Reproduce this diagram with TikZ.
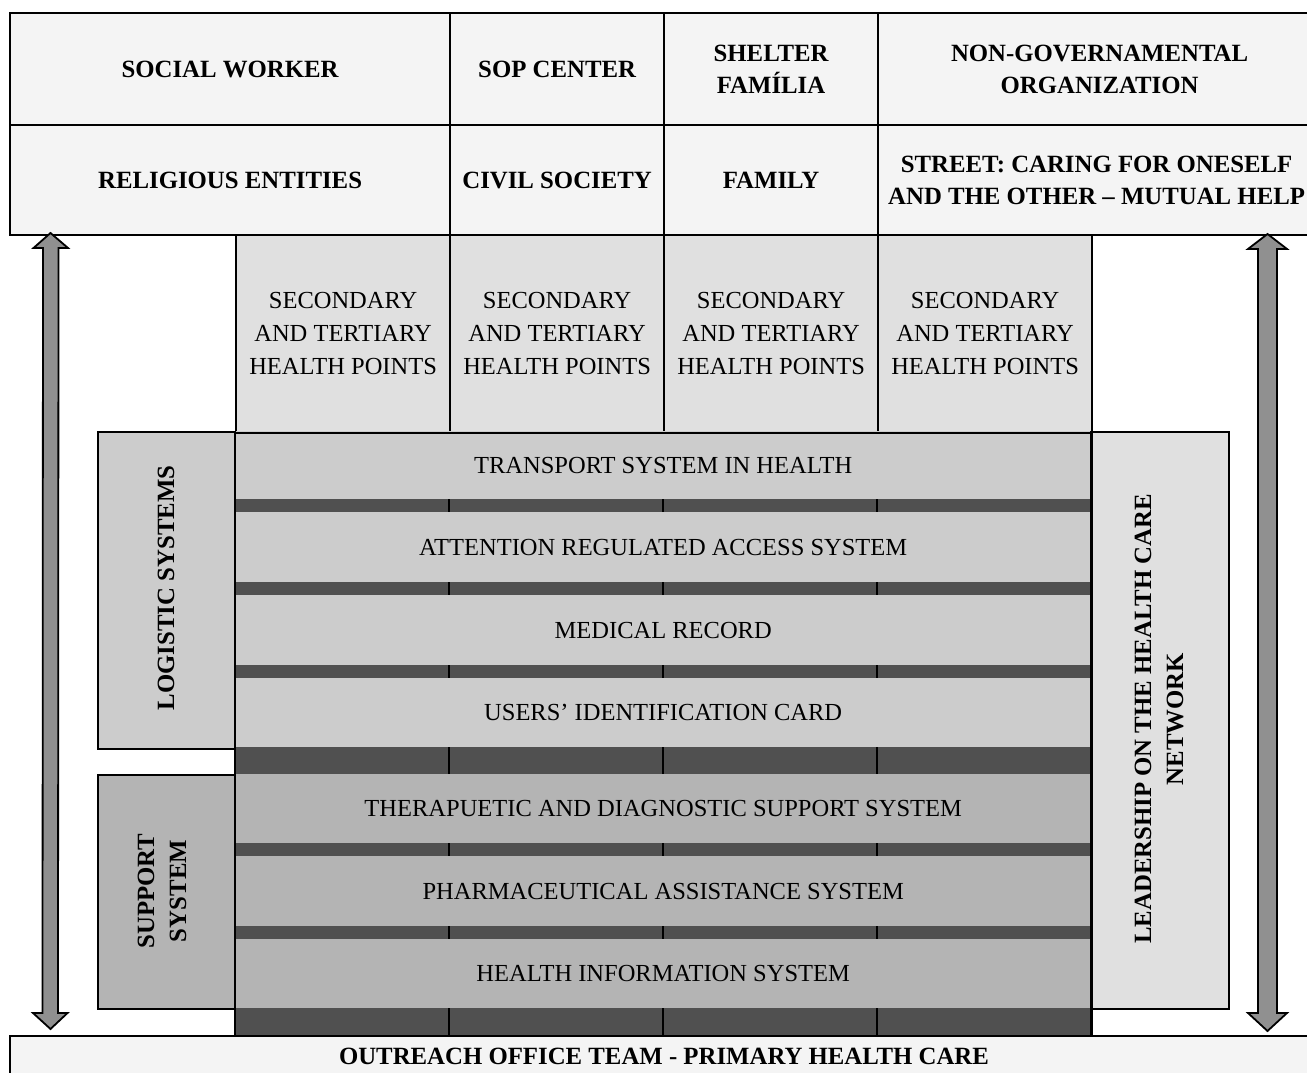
\documentclass[tikz,border=0pt]{standalone}
\usepackage{fontspec}
\setmainfont{Liberation Serif}
\definecolor{toplight}{HTML}{F4F4F4}
\definecolor{secgray}{HTML}{E0E0E0}
\definecolor{loggray}{HTML}{CCCCCC}
\definecolor{supgray}{HTML}{B4B4B4}
\definecolor{bandgray}{HTML}{505050}
\definecolor{arrowgray}{HTML}{909090}
\begin{document}
\begin{tikzpicture}[x=1pt,y=-1pt,
  hdr/.style={draw, line width=2.2pt, fill=toplight, inner sep=0pt, anchor=north west, align=center,
    font=\bfseries\fontsize{24.8}{32}\selectfont},
  secbox/.style={draw, line width=2.2pt, fill=secgray, inner sep=0pt, anchor=north west, align=center,
    minimum width=214, minimum height=197, font=\fontsize{24.5}{33}\selectfont},
  sidebox/.style={draw, line width=2pt, inner sep=0pt, anchor=north west},
  rowbox/.style={inner sep=0pt, anchor=north west, minimum width=856, font=\fontsize{24.5}{32}\selectfont},
  bandbox/.style={fill=bandgray, inner sep=0pt, anchor=north west, minimum width=856},
  vlabel/.style={rotate=90, align=center, font=\bfseries\fontsize{24.8}{32}\selectfont},
  tick/.style={line width=2.5pt, black},
  blockarrow/.style={draw, line width=1.8pt, fill=arrowgray, line join=miter}
]
\clip (0,0) rectangle (1307,1073);
\fill[white] (0,0) rectangle (1307,1073);

% top header rows
\node[hdr, minimum width=440, minimum height=112] (sw) at (9,12) {SOCIAL WORKER};
\node[hdr, minimum width=214, minimum height=112] (sop) at (449,12) {SOP CENTER};
\node[hdr, minimum width=214, minimum height=112] (shelter) at (663,12) {SHELTER\\FAMÍLIA};
\node[hdr, minimum width=443, minimum height=112] (ngo) at (877,12) {NON-GOVERNAMENTAL\\ORGANIZATION};
\node[hdr, minimum width=440, minimum height=110] (rel) at (9,124) {RELIGIOUS ENTITIES};
\node[hdr, minimum width=214, minimum height=110] (civ) at (449,124) {CIVIL SOCIETY};
\node[hdr, minimum width=214, minimum height=110] (fam) at (663,124) {FAMILY};
\node[hdr, minimum width=437, minimum height=110] (street) at (877,124) {STREET: CARING FOR ONESELF\\AND THE OTHER -- MUTUAL HELP};

% secondary and tertiary
\node[secbox] (s1) at (235,234) {SECONDARY\\AND TERTIARY\\HEALTH POINTS};
\node[secbox] (s2) at (449,234) {SECONDARY\\AND TERTIARY\\HEALTH POINTS};
\node[secbox] (s3) at (663,234) {SECONDARY\\AND TERTIARY\\HEALTH POINTS};
\node[secbox] (s4) at (877,234) {SECONDARY\\AND TERTIARY\\HEALTH POINTS};

% side boxes
\node[sidebox, fill=loggray, minimum width=138, minimum height=317] (logbox) at (97,431) {};
\node[vlabel] (loglabel) at (166,588) {LOGISTIC SYSTEMS};
\node[sidebox, fill=supgray, minimum width=138, minimum height=234] (supbox) at (97,774) {};
\node[vlabel] (suplabel) at (162,891) {SUPPORT\\SYSTEM};
\node[sidebox, fill=secgray, minimum width=137, minimum height=577] (leadbox) at (1091,431) {};
\node[vlabel] (leadlabel) at (1159,719) {LEADERSHIP ON THE HEALTH CARE\\NETWORK};

% rows
\node[rowbox, fill=loggray, minimum height=68] (trans) at (235,431) {TRANSPORT SYSTEM IN HEALTH};
\node[bandbox, minimum height=13] (b1) at (235,499) {};
\node[rowbox, fill=loggray, minimum height=70] (att) at (235,512) {ATTENTION REGULATED ACCESS SYSTEM};
\node[bandbox, minimum height=13] (b2) at (235,582) {};
\node[rowbox, fill=loggray, minimum height=70] (med) at (235,595) {MEDICAL RECORD};
\node[bandbox, minimum height=13] (b3) at (235,665) {};
\node[rowbox, fill=loggray, minimum height=69] (card) at (235,678) {USERS’ IDENTIFICATION CARD};
\node[bandbox, minimum height=27] (b4) at (235,747) {};
\node[rowbox, fill=supgray, minimum height=69] (ther) at (235,774) {THERAPUETIC AND DIAGNOSTIC SUPPORT SYSTEM};
\node[bandbox, minimum height=13] (b5) at (235,843) {};
\node[rowbox, fill=supgray, minimum height=70] (pharm) at (235,856) {PHARMACEUTICAL ASSISTANCE SYSTEM};
\node[bandbox, minimum height=13] (b6) at (235,926) {};
\node[rowbox, fill=supgray, minimum height=69] (hinfo) at (235,939) {HEALTH INFORMATION SYSTEM};
\node[bandbox, minimum height=27] (b7) at (235,1008) {};

% ticks in bands
\foreach \b in {b1,b2,b3,b4,b5,b6,b7}{
  \foreach \xx in {214,428,642}{
    \draw[tick] ([xshift=\xx pt]\b.north west) -- ([xshift=\xx pt]\b.south west);
  }
}

% borders of the rows block
\draw[line width=2.5pt] (s1.south west) -- (s4.south east);
\draw[line width=2.5pt] (trans.north west) -- (b7.south west);
\draw[line width=2.5pt] (trans.north east) -- (b7.south east);

% outreach box
\node[hdr, minimum width=1311, minimum height=60, anchor=north west] (out) at (9,1035) {};
\node[font=\bfseries\fontsize{24.8}{32}\selectfont] (outlabel) at (664,1056) {OUTREACH OFFICE TEAM - PRIMARY HEALTH CARE};

% double block arrows
\coordinate (la) at (50.5,233);
\coordinate (lb) at (50.5,1029);
\draw[blockarrow] (la) -- ++(17.5,15) -- ++(-9.5,0) -- (58,1013) -- ++(9.5,0) -- (lb) -- ++(-17.5,-16) -- ++(9.5,0) -- (43,248) -- ++(-9.5,0) -- cycle;
\coordinate (ra) at (1267.5,234);
\coordinate (rb) at (1267.5,1031);
\draw[blockarrow] (ra) -- ++(19.5,15) -- ++(-10,0) -- (1277,1013) -- ++(10,0) -- (rb) -- ++(-19.5,-18) -- ++(10,0) -- (1258,249) -- ++(-10,0) -- cycle;
\end{tikzpicture}
\end{document}
